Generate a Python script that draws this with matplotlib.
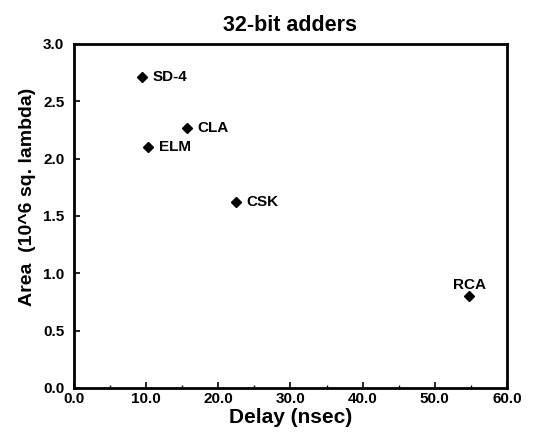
import matplotlib
matplotlib.use("Agg")
import matplotlib.pyplot as plt
from matplotlib.ticker import MultipleLocator, FormatStrFormatter

names = ["SD-4", "CLA", "ELM", "CSK", "RCA"]
delay = [9.4, 15.6, 10.3, 22.4, 54.8]
area = [2.71, 2.27, 2.10, 1.62, 0.80]

plt.rcParams['font.family'] = ['Liberation Sans', 'DejaVu Sans']
plt.rcParams['font.weight'] = 'bold'

fig = plt.figure(figsize=(5.33, 4.34), dpi=100)
ax = fig.add_axes([0.139, 0.106, 0.812, 0.793])
ax.plot(delay, area, linestyle='none', marker='D', color='black', markersize=5)
for n, x, y in zip(names, delay, area):
    if n == "RCA":
        ax.annotate(n, (x, y), xytext=(0, 3), textcoords='offset points',
                    ha='center', va='bottom', fontsize=11, fontweight='bold')
    else:
        ax.annotate(n, (x, y), xytext=(8, 0), textcoords='offset points',
                    ha='left', va='center', fontsize=11, fontweight='bold')

ax.set_xlim(0, 60)
ax.set_ylim(0, 3.0)
ax.xaxis.set_major_locator(MultipleLocator(10))
ax.xaxis.set_minor_locator(MultipleLocator(5))
ax.yaxis.set_major_locator(MultipleLocator(0.5))
ax.xaxis.set_major_formatter(FormatStrFormatter('%.1f'))
ax.yaxis.set_major_formatter(FormatStrFormatter('%.1f'))
ax.tick_params(direction='in', length=4, width=1.2, labelsize=11)
ax.tick_params(axis='y', pad=7)
ax.tick_params(axis='x', pad=3)
ax.tick_params(which='minor', direction='in', length=2, width=1)
for lbl in ax.get_xticklabels() + ax.get_yticklabels():
    lbl.set_fontweight('bold')
for s in ax.spines.values():
    s.set_linewidth(2)
ax.set_title("32-bit adders", fontsize=15.5, fontweight='bold', pad=9)
ax.set_xlabel("Delay (nsec)", fontsize=15, fontweight='bold', labelpad=1)
ax.set_ylabel("Area  (10^6 sq. lambda)", fontsize=14, fontweight='bold')
ax.yaxis.set_label_coords(-0.087, 0.555)
fig.savefig("out.png", dpi=100)
